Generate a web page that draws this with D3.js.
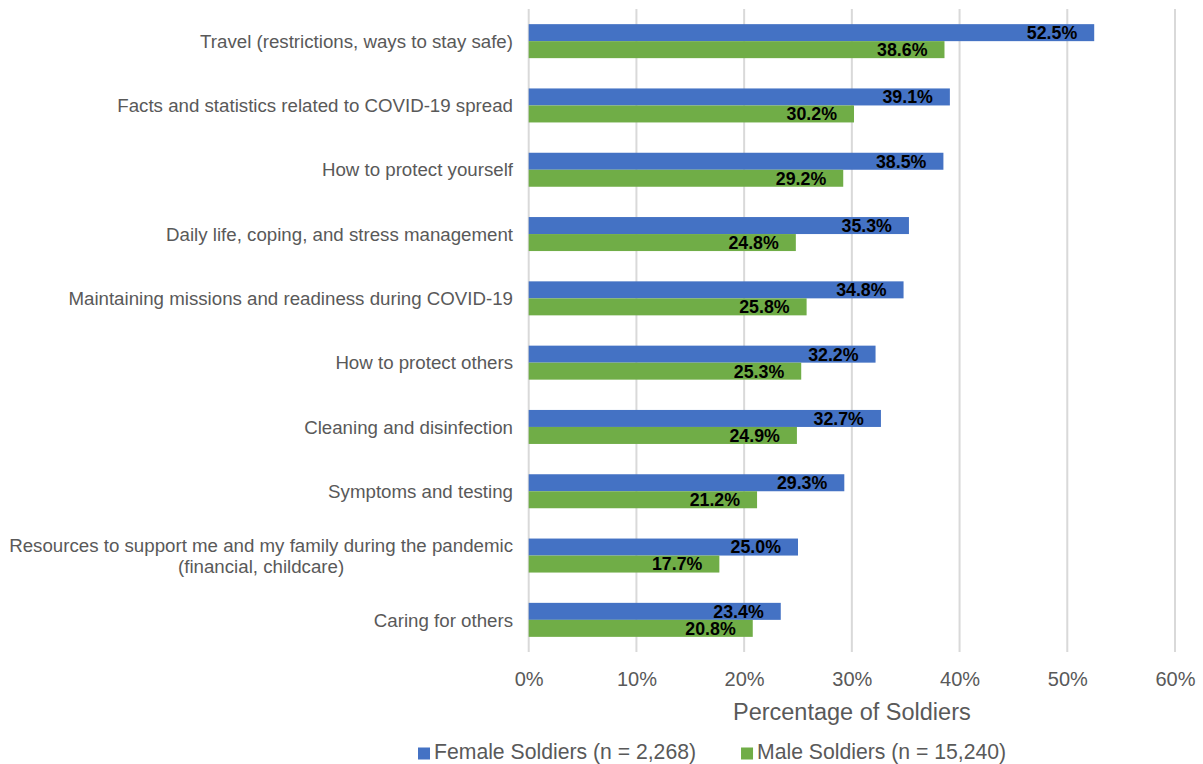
<!DOCTYPE html>
<html>
<head>
<meta charset="utf-8">
<script src="https://cdn.jsdelivr.net/npm/d3@7"></script>
<style>
  html, body { margin: 0; padding: 0; background: #fff; }
  svg { display: block; }
  text { font-family: "Liberation Sans", Arial, sans-serif; }
</style>
</head>
<body>
<svg id="chart" width="1203" height="764"></svg>
<script>
const categories = [
  ["Travel (restrictions, ways to stay safe)"],
  ["Facts and statistics related to COVID-19 spread"],
  ["How to protect yourself"],
  ["Daily life, coping, and stress management"],
  ["Maintaining missions and readiness during COVID-19"],
  ["How to protect others"],
  ["Cleaning and disinfection"],
  ["Symptoms and testing"],
  ["Resources to support me and my family during the pandemic", "(financial, childcare)"],
  ["Caring for others"]
];
const femaleValues = [52.5, 39.1, 38.5, 35.3, 34.8, 32.2, 32.7, 29.3, 25.0, 23.4];
const maleValues   = [38.6, 30.2, 29.2, 24.8, 25.8, 25.3, 24.9, 21.2, 17.7, 20.8];
const seriesNames = ["Female Soldiers (n = 2,268)", "Male Soldiers (n = 15,240)"];
const seriesColors = ["#4472C4", "#70AD47"];
const xTicks = [0, 10, 20, 30, 40, 50, 60];
const axisTitle = "Percentage of Soldiers";

(function () {
const svg = d3.select("#chart");
const plotLeft = 528.7, plotRight = 1175, plotTop = 9, plotBottom = 652;
const textColor = "#595959";
const catFont = "18.7px";

const x = d3.scaleLinear().domain([0, 60]).range([plotLeft, plotRight]);
const y = d3.scaleBand().domain(d3.range(categories.length)).range([plotTop, plotBottom]).paddingInner(0).paddingOuter(0);
const barH = 17;
const groupH = barH * 2;
const sub = d3.scaleBand().domain([0, 1]).range([0, groupH]);

// gridlines
svg.append("g").selectAll("line").data(xTicks).join("line")
  .attr("x1", d => x(d)).attr("x2", d => x(d))
  .attr("y1", plotTop).attr("y2", plotBottom)
  .attr("stroke", "#D9D9D9").attr("stroke-width", 2);

const series = [femaleValues, maleValues];
series.forEach((vals, si) => {
  const g = svg.append("g");
  g.selectAll("rect").data(vals).join("rect")
    .attr("x", x(0))
    .attr("y", (d, i) => y(i) + (y.bandwidth() - groupH) / 2 + sub(si))
    .attr("width", d => x(d) - x(0))
    .attr("height", sub.bandwidth())
    .attr("fill", seriesColors[si]);
  g.selectAll("text").data(vals).join("text")
    .attr("x", d => x(d) - 17)
    .attr("y", (d, i) => y(i) + (y.bandwidth() - groupH) / 2 + sub(si) + sub.bandwidth() / 2)
    .attr("dy", "0.36em")
    .attr("text-anchor", "end")
    .attr("font-size", "17.8px")
    .attr("font-weight", "bold")
    .attr("fill", "#000")
    .text(d => d.toFixed(1) + "%");
});

// category labels
const catG = svg.append("g");
categories.forEach((lines, i) => {
  const cy = y(i) + y.bandwidth() / 2;
  const lh = 21;
  if (lines.length === 1) {
    catG.append("text")
      .attr("x", 513).attr("y", cy).attr("dy", "0.36em")
      .attr("text-anchor", "end").attr("font-size", catFont).attr("fill", textColor)
      .text(lines[0]);
  } else {
    const temp = catG.append("text").attr("font-size", catFont).text(lines[0]);
    const w = temp.node().getComputedTextLength();
    temp.remove();
    const cx = 513 - w / 2;
    lines.forEach((ln, k) => {
      catG.append("text")
        .attr("x", cx).attr("y", cy + (k - (lines.length - 1) / 2) * lh).attr("dy", "0.36em")
        .attr("text-anchor", "middle").attr("font-size", catFont).attr("fill", textColor)
        .text(ln);
    });
  }
});

// x axis tick labels
const axis = d3.axisBottom(x).tickValues(xTicks).tickFormat(d => d + "%").tickSize(0).tickPadding(0);
const ax = svg.append("g").attr("transform", `translate(0, 686)`).call(axis);
ax.select(".domain").remove();
ax.selectAll("text")
  .attr("y", 0).attr("dy", 0)
  .attr("font-size", "20px").attr("fill", textColor)
  .style("font-family", '"Liberation Sans", Arial, sans-serif');

// axis title
svg.append("text")
  .attr("x", (plotLeft + plotRight) / 2).attr("y", 720)
  .attr("text-anchor", "middle").attr("font-size", "23.5px").attr("fill", textColor)
  .text(axisTitle);

// legend
let lx = 418;
seriesNames.forEach((name, si) => {
  svg.append("rect").attr("x", lx).attr("y", 747.5).attr("width", 12).attr("height", 12)
    .attr("fill", seriesColors[si]);
  const t = svg.append("text").attr("x", lx + 16).attr("y", 759)
    .attr("font-size", "21.2px").attr("fill", textColor).text(name);
  lx = lx + 16 + t.node().getComputedTextLength() + 45;
});
})();
</script>
</body>
</html>
